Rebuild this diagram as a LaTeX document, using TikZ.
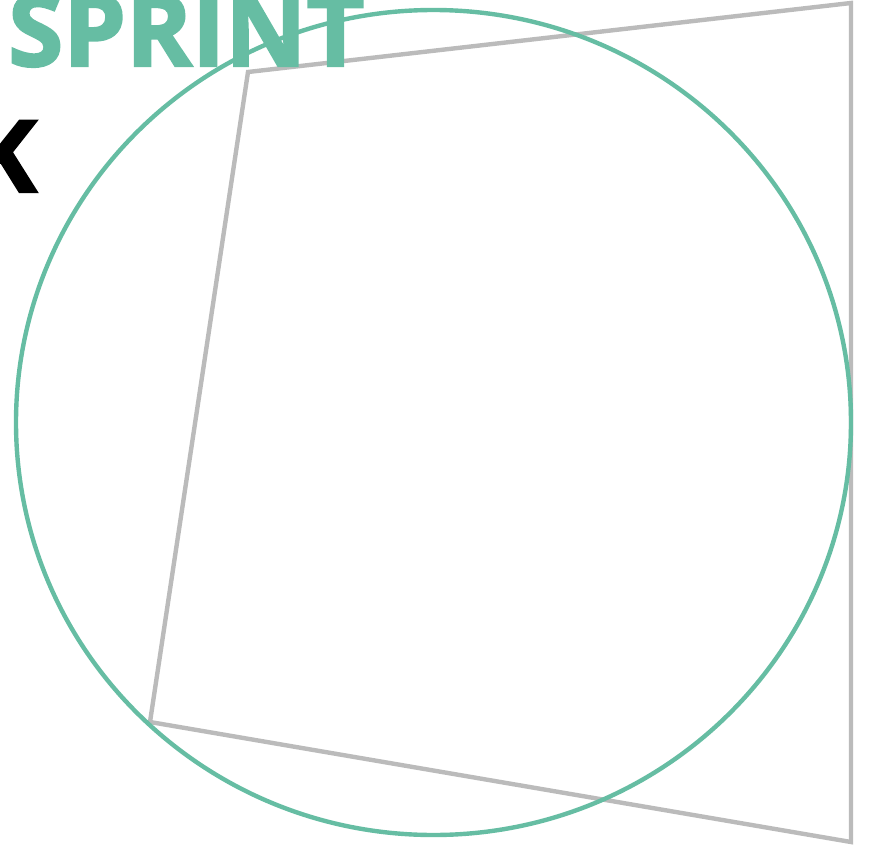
\documentclass[tikz,border=0pt]{standalone}
\usepackage{fontspec}
\setmainfont{Open Sans}
\newfontfamily\heavy[UprightFeatures={FakeBold=2.2},BoldFeatures={FakeBold=2.2}]{Open Sans}
\definecolor{sgreen}{HTML}{66BDA3}
\definecolor{sgray}{HTML}{BBBBBB}
\begin{document}
\begin{tikzpicture}[x=1pt,y=-1pt,
  frame/.style={draw=sgray,line width=4.4pt,line join=miter},
  ring/.style={draw=sgreen,line width=4.4pt},
  title/.style={inner sep=0pt,font=\fontsize{100}{100}\heavy\bfseries}]
\useasboundingbox (0,0) rectangle (869,850);
\draw[frame] (248,72) -- (851,3) -- (851,842) -- (150,722) -- cycle;
\draw[ring] (433.5,422.5) ellipse [x radius=417.5, y radius=412.5];
\node[title,text=sgreen,anchor=base west] (sprint) at (8,66) {SPRINT};
\node[title,text=black,anchor=base east] (k) at (37,192) {K};
\end{tikzpicture}
\end{document}
